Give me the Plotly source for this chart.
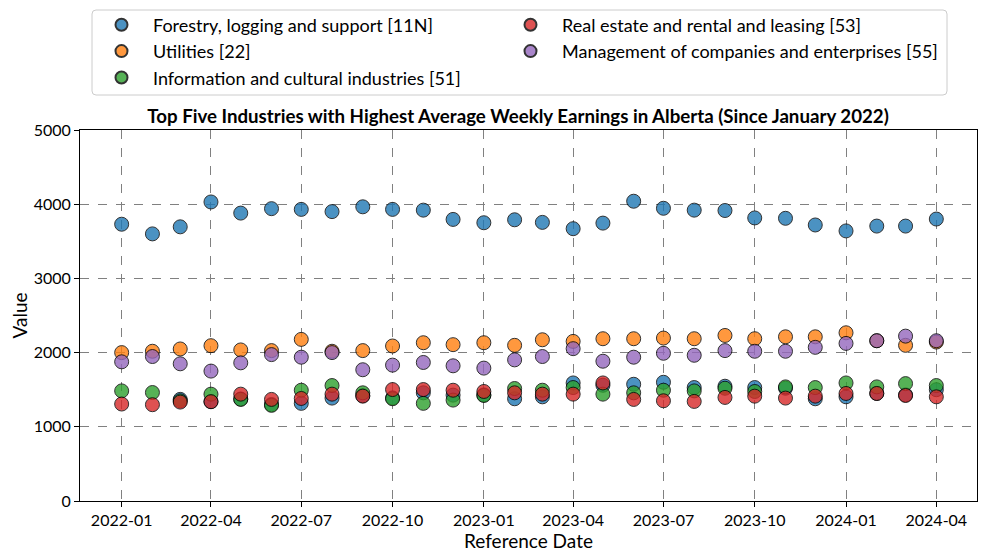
import plotly.graph_objects as go

dates = ["2022-01-01", "2022-02-01", "2022-03-01", "2022-04-01", "2022-05-01", "2022-06-01",
         "2022-07-01", "2022-08-01", "2022-09-01", "2022-10-01", "2022-11-01", "2022-12-01",
         "2023-01-01", "2023-02-01", "2023-03-01", "2023-04-01", "2023-05-01", "2023-06-01",
         "2023-07-01", "2023-08-01", "2023-09-01", "2023-10-01", "2023-11-01", "2023-12-01",
         "2024-01-01", "2024-02-01", "2024-03-01", "2024-04-01"]

forestry_a = [3730, 3600, 3695, 4030, 3880, 3940, 3930, 3900, 3965, 3930, 3920, 3795,
              3750, 3790, 3755, 3670, 3745, 4040, 3945, 3920, 3915, 3815, 3810, 3720,
              3640, 3705, 3705, 3800]
forestry_b = [None, None, 1370, 1340, 1375, 1300, 1316, 1387, 1420, 1390, 1458, 1427,
              1430, 1378, 1404, 1591, 1560, 1573, 1600, 1529, 1547, 1529, 1520, 1378,
              1404, 1450, 1430, 1500]
utilities = [2000, 2018, 2049, 2093, 2036, 2027, 2178, 2018, 2027, 2089, 2133, 2107,
             2133, 2098, 2173, 2151, 2187, 2187, 2196, 2187, 2231, 2187, 2213, 2213,
             2267, 2160, 2098, 2142]
information = [1484, 1462, 1350, 1440, 1369, 1289, 1493, 1556, 1458, 1378, 1316, 1360,
               1422, 1516, 1493, 1529, 1440, 1458, 1493, 1484, 1520, 1476, 1538, 1529,
               1591, 1538, 1582, 1556]
real_estate = [1307, 1298, 1333, 1338, 1440, 1369, 1382, 1440, 1413, 1502, 1502, 1493,
               1476, 1458, 1440, 1440, 1591, 1369, 1351, 1342, 1396, 1413, 1387, 1413,
               1449, 1449, 1422, 1404]
management = [1876, 1947, 1849, 1751, 1862, 1973, 1938, 2000, 1769, 1831, 1867, 1822,
              1791, 1902, 1947, 2053, 1884, 1938, 1991, 1964, 2027, 2018, 2018, 2071,
              2124, 2160, 2222, 2160]

names = ["Forestry, logging and support [11N]", "Utilities [22]",
         "Information and cultural industries [51]", "Real estate and rental and leasing [53]",
         "Management of companies and enterprises [55]"]
colors = ["#1f77b4", "#ff7f0e", "#2ca02c", "#d62728", "#9467bd"]
legend_ids = ["legend", "legend", "legend", "legend2", "legend2"]

series = [(dates + dates, forestry_a + forestry_b), (dates, utilities), (dates, information),
          (dates, real_estate), (dates, management)]

fig = go.Figure()
for (xs, ys), name, color, lg in zip(series, names, colors, legend_ids):
    fig.add_trace(go.Scatter(
        x=xs, y=ys, mode="markers", name=name, legend=lg,
        marker=dict(size=14, color=color, opacity=0.8,
                    line=dict(color="black", width=1)),
    ))

font = "Lato, 'Open Sans', sans-serif"
W, H = 979, 550  # page body has an 8px margin; figure fills the rest of the 987x558 window
ML, MR, MT, MB = 72, 10, 122, 57
PW, PH = W - ML - MR, H - MT - MB


def px_x(fx):
    return (fx - ML) / PW


def px_y(fy):
    return (H - MB - fy) / PH


legend_common = dict(orientation="v", xref="paper", yref="paper", xanchor="left",
                     yanchor="top", y=px_y(-1.5), itemwidth=53, borderwidth=0,
                     bgcolor="rgba(0,0,0,0)", font=dict(size=18, family=font),
                     itemsizing="constant", tracegroupgap=0)

# rounded legend frame
x0, x1, y0, y1 = px_x(84), px_x(939), px_y(87), px_y(2)
rx, ry = 4 / PW, 4 / PH
frame = (f"M {x0 + rx},{y1} L {x1 - rx},{y1} Q {x1},{y1} {x1},{y1 - ry} "
         f"L {x1},{y0 + ry} Q {x1},{y0} {x1 - rx},{y0} L {x0 + rx},{y0} "
         f"Q {x0},{y0} {x0},{y0 + ry} L {x0},{y1 - ry} Q {x0},{y1} {x0 + rx},{y1} Z")

fig.update_layout(
    width=W, height=H,
    margin=dict(l=ML, r=MR, t=MT, b=MB, autoexpand=False),
    paper_bgcolor="white", plot_bgcolor="white",
    font=dict(family=font, size=16, color="black"),
    title=dict(text="<b>Top Five Industries with Highest Average Weekly Earnings in Alberta (Since January 2022)</b>",
               x=0.521, xanchor="center", y=1 - 108 / H, yanchor="middle",
               yref="container", font=dict(size=18.7, family=font)),
    legend=dict(x=px_x(82), **legend_common),
    legend2=dict(x=px_x(491), **legend_common),
    shapes=[dict(type="path", xref="paper", yref="paper", path=frame,
                 line=dict(color="#cccccc", width=1), fillcolor="rgba(255,255,255,0.8)",
                 layer="below")],
    showlegend=True,
)
fig.update_xaxes(
    type="date", range=["2021-11-20", "2024-05-12"], automargin=False,
    dtick="M3", tick0="2022-01-01", tickformat="%Y-%m",
    showgrid=True, gridcolor="gray", griddash="dash", gridwidth=1,
    showline=True, linecolor="black", linewidth=1, mirror=True,
    ticks="outside", ticklen=5, tickcolor="black",
    title=dict(text="Reference Date", standoff=4),
    tickfont=dict(size=16), zeroline=False,
)
fig.update_yaxes(
    range=[0, 5000], dtick=1000, automargin=False,
    showgrid=True, gridcolor="gray", griddash="dash", gridwidth=1,
    showline=True, linecolor="black", linewidth=1, mirror=True,
    ticks="outside", ticklen=5, tickcolor="black",
    title=dict(text="Value", standoff=14),
    tickfont=dict(size=16), zeroline=False,
)
fig.write_html("out.html")
